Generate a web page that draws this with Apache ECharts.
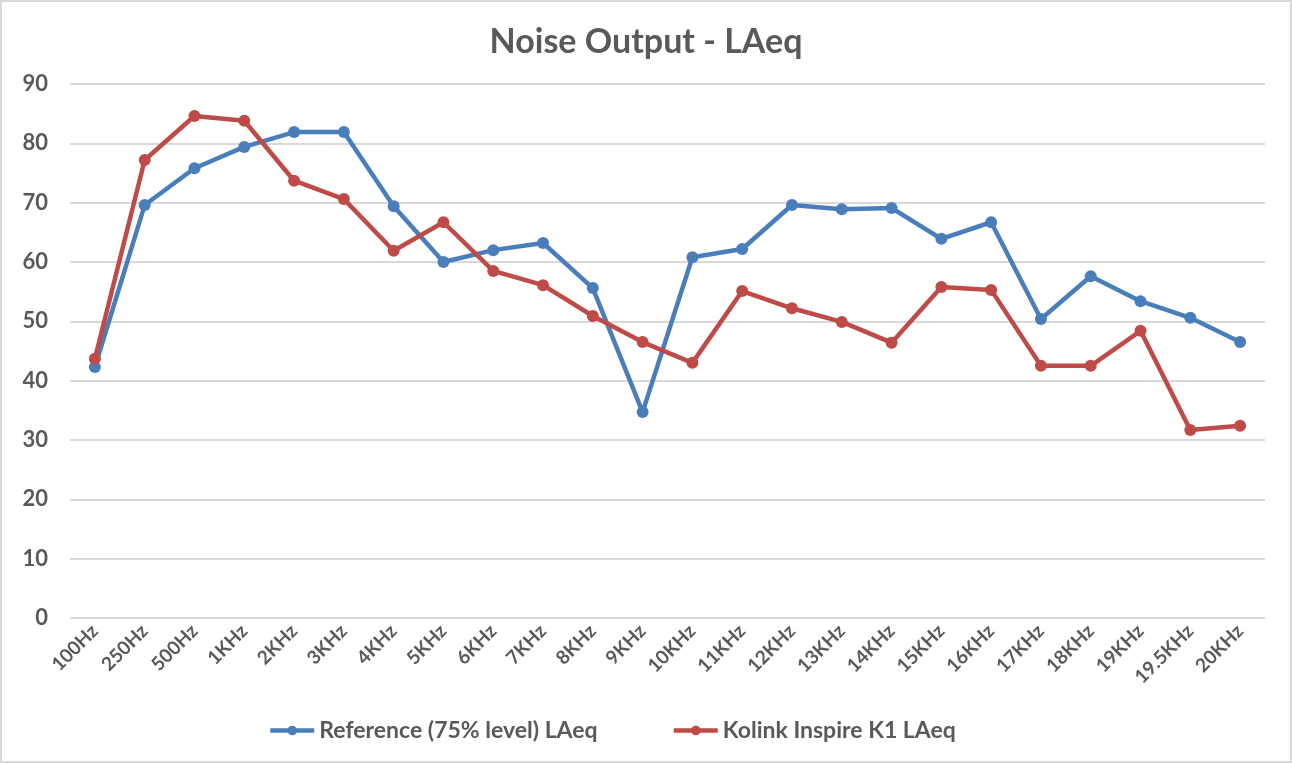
<!DOCTYPE html>
<html>
<head>
<meta charset="utf-8">
<script src="https://cdn.jsdelivr.net/npm/echarts@6/dist/echarts.min.js"></script>
<style>
html,body{margin:0;padding:0;background:#fff;}
#c{width:1292px;height:763px;box-sizing:border-box;border:2px solid #d9d9d9;}
</style>
</head>
<body>
<div id="c"></div>
<script>
var categories = ['100Hz','250Hz','500Hz','1KHz','2KHz','3KHz','4KHz','5KHz','6KHz','7KHz','8KHz','9KHz','10KHz','11KHz','12KHz','13KHz','14KHz','15KHz','16KHz','17KHz','18KHz','19KHz','19.5KHz','20KHz'];
var referenceValues = [42.3,69.6,75.8,79.4,81.9,81.9,69.4,60.0,62.0,63.2,55.6,34.7,60.8,62.2,69.6,68.9,69.1,63.9,66.7,50.4,57.6,53.4,50.6,46.5];
var kolinkValues = [43.7,77.2,84.6,83.8,73.7,70.6,61.9,66.7,58.5,56.1,50.9,46.5,43.0,55.1,52.2,49.9,46.4,55.8,55.3,42.5,42.5,48.4,31.7,32.4];
var seriesNames = ['Reference (75% level) LAeq','Kolink Inspire K1 LAeq'];

var chart = echarts.init(document.getElementById('c'), null, {renderer:'canvas'});
var font = 'Lato, "Open Sans", sans-serif';
chart.setOption({
  animation:false,
  backgroundColor:'#fff',
  title:{text:'Noise Output - LAeq',left:'center',top:18,
    textStyle:{fontFamily:font,fontSize:34,fontWeight:'bold',color:'#595959'}},
  grid:{left:68,right:25,top:82,bottom:143,containLabel:false},
  legend:{bottom:14,left:261,itemGap:74,itemWidth:44,itemHeight:12,
    lineStyle:{width:4.5},
    textStyle:{fontFamily:font,fontSize:23,fontWeight:'bold',color:'#595959'},
    data:seriesNames},
  xAxis:{type:'category',data:categories,boundaryGap:true,
    axisLine:{show:false},axisTick:{show:false},
    axisLabel:{rotate:45,interval:0,margin:10,fontFamily:font,fontSize:19,fontWeight:'bold',color:'#595959'}},
  yAxis:{type:'value',min:0,max:90,interval:10,
    axisLine:{show:false},axisTick:{show:false},
    splitLine:{lineStyle:{color:'#d9d9d9',width:2}},
    axisLabel:{margin:22,fontFamily:font,fontSize:22,fontWeight:'bold',color:'#595959'}},
  series:[
    {name:seriesNames[0],type:'line',data:referenceValues,symbol:'circle',symbolSize:12,
      lineStyle:{width:4.5,color:'#4a7ebb'},itemStyle:{color:'#4a7ebb'}},
    {name:seriesNames[1],type:'line',data:kolinkValues,symbol:'circle',symbolSize:12,
      lineStyle:{width:4.5,color:'#be4b48'},itemStyle:{color:'#be4b48'}}
  ]
});
</script>
</body>
</html>
